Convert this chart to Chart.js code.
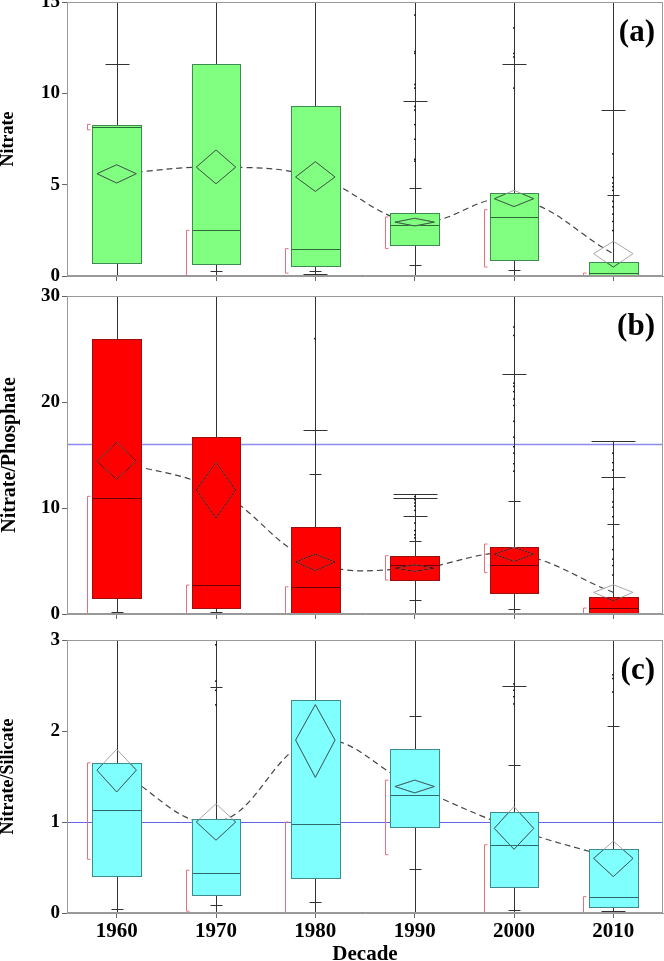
<!DOCTYPE html>
<html>
<head>
<meta charset="utf-8">
<script src="https://cdn.jsdelivr.net/npm/chart.js@4.4.0/dist/chart.umd.min.js"></script>
<style>
    html, body { margin: 0; padding: 0; background: #fff; overflow: hidden; width: 664px; height: 961px; position: relative; }
    .p { position: absolute; left: 0; width: 664px; }
</style>
</head>
<body>
<div class="p" style="top:-14px;height:305px"><canvas id="cA"></canvas></div>
<div class="p" style="top:280px;height:349px"><canvas id="cB"></canvas></div>
<div class="p" style="top:624px;height:343px"><canvas id="cC"></canvas></div>
<script>
const decades = ['1960', '1970', '1980', '1990', '2000', '2010'];

// (a) Nitrate
const nitQ1 = [0.71, 0.68, 0.55, 1.68, 0.86, 0.0];
const nitMed = [8.15, 2.5, 1.46, 2.77, 3.21, 0.16];
const nitQ3 = [8.25, 11.58, 9.28, 3.47, 4.54, 0.77];
const nitMean = [5.6, 5.96, 5.42, 2.95, 4.23, 1.22];
const nitMeanLo = [5.09, 5.05, 4.63, 2.74, 3.8, 0.49];
const nitMeanHi = [6.09, 6.9, 6.26, 3.16, 4.69, 1.9];
const nitMin = [0, 0, 0, 0, 0, 0];
const nitMax = [20, 20, 20, 20, 20, 20];
const nitTickS = [[0.05], [0.27], [0.3], [4.81, 0.58], [0.31], [4.41]];
const nitTickM = [[11.6], [], [0.12], [9.6, 0.02], [11.62, 0.03], [9.1]];
const nitTickL = [[], [0.02], [0.04], [], [], [0.03]];
const nitDots = [[], [], [], [14.3, 12.3, 12.2, 10.5, 10.3, 9.3, 9.1, 8.3, 7.5, 6.4, 6.3], [13.6, 12.2, 12.0, 10.3], [6.7, 5.4, 5.1, 4.9, 4.7, 4.1, 3.8, 3.4, 3.0, 2.5]];
const nitHalfLo = [8.0, 0, 0.16, 1.5, 0.49, 0];
const nitHalfHi = [8.3, 2.5, 1.5, 3.23, 3.63, 0.16];

// (b) Nitrate/Phosphate
const npQ1 = [1.47, 0.56, 0.0, 3.17, 1.94, 0.1];
const npMed = [10.93, 2.73, 2.57, 4.62, 4.62, 0.56];
const npQ3 = [25.9, 16.7, 8.17, 5.46, 6.34, 1.57];
const npMean = [14.4, 11.7, 4.9, 4.33, 5.65, 2.04];
const npMeanLo = [12.7, 9.05, 4.1, 4.02, 4.96, 1.25];
const npMeanHi = [16.2, 14.3, 5.65, 4.65, 6.28, 2.76];
const npMin = [0.1, 0, 0, 0, 0, 0];
const npMax = [40, 40, 40, 11.3, 40, 16.33];
const npTickS = [[0.15], [0.2], [13.25], [6.85, 1.32], [10.65, 0.47], [8.5]];
const npTickM = [[], [0.08], [17.4], [9.2], [22.6, 0.05], [12.94]];
const npTickL = [[], [], [], [11.3, 10.9], [], [16.33]];
const npDots = [[], [], [26.0], [11.1, 10.8, 10.5, 10.2, 9.8, 8.6, 7.9, 7.5, 7.2], [27.1, 26.3, 21.8, 21.5, 21.0, 20.3, 19.7, 18.2, 16.7, 15.8, 15.2, 14.2, 13.5], [15.2, 14.3, 13.6, 11.8, 10.6, 10.1, 9.2, 7.3, 6.1, 5.2, 4.6, 3.7]];
const npHalfLo = [0, 0, 0, 3.2, 3.9, 0];
const npHalfHi = [11.1, 2.73, 2.57, 5.5, 6.6, 0.56];
const npRef = 16;

// (c) Nitrate/Silicate
const nsQ1 = [0.41, 0.2, 0.38, 0.95, 0.29, 0.066];
const nsMed = [1.13, 0.44, 0.98, 1.3, 0.75, 0.18];
const nsQ3 = [1.65, 1.03, 2.34, 1.8, 1.11, 0.70];
const nsMean = [1.57, 1.0, 1.9, 1.39, 0.93, 0.6];
const nsMeanLo = [1.33, 0.8, 1.49, 1.32, 0.70, 0.4];
const nsMeanHi = [1.8, 1.2, 2.29, 1.46, 1.17, 0.79];
const nsMin = [0, 0, 0, 0, 0, 0];
const nsMax = [5, 5, 5, 5, 5, 5];
const nsTickS = [[0.04], [2.48, 0.09], [0.12], [2.16, 0.48], [1.63, 0.03], [2.06]];
const nsTickM = [[], [0.0], [], [], [2.49, 0.0], [0.02]];
const nsTickL = [[], [], [], [], [], []];
const nsDots = [[], [2.95, 2.55, 2.45, 2.29], [], [], [2.52, 2.45, 2.38, 2.3], [2.62, 2.58, 2.43]];
const nsHalfLo = [0.59, 0.02, 0, 0.64, 0, 0];
const nsHalfHi = [1.65, 0.47, 1.0, 1.46, 0.75, 0.18];
const nsRef = 1;

const serif = "'Liberation Serif', 'Times New Roman', serif";

function boxPlugin(p) {
    return {
        id: 'boxes' + p.tag,
        beforeDatasetsDraw(chart) {
            const { ctx, chartArea: a, scales: { x, y } } = chart;
            const step = x.getPixelForValue(1) - x.getPixelForValue(0);
            ctx.save();
            ctx.beginPath();
            ctx.rect(a.left, a.top, a.right - a.left, a.bottom - a.top);
            ctx.clip();
            // ligne de référence
            if (p.ref != null) {
                const ry = Math.round(y.getPixelForValue(p.ref)) + 0.5;
                ctx.strokeStyle = p.refColor;
                ctx.lineWidth = p.refWidth;
                ctx.beginPath();
                ctx.moveTo(a.left, ry);
                ctx.lineTo(a.right, ry);
                ctx.stroke();
            }
            p.mean.forEach((m, i) => {
                const cx = Math.round(x.getPixelForValue(i)) + 0.5;
                ctx.strokeStyle = '#333';
                ctx.lineWidth = 1;
                ctx.beginPath();
                ctx.moveTo(cx, y.getPixelForValue(p.min[i]));
                ctx.lineTo(cx, y.getPixelForValue(p.max[i]));
                ctx.stroke();
                // marques des quantiles
                [[p.tickS, 6], [p.tickM, 12], [p.tickL, 22]].forEach(([arr, hw]) => {
                    arr[i].forEach(v => {
                        const ty = Math.round(y.getPixelForValue(v)) + 0.5;
                        ctx.beginPath();
                        ctx.moveTo(cx - hw, ty);
                        ctx.lineTo(cx + hw, ty);
                        ctx.stroke();
                    });
                });
                // points
                ctx.fillStyle = '#222';
                p.dots[i].forEach(v => {
                    ctx.fillRect(cx - 1.5, y.getPixelForValue(v) - 0.5, 2, 1.5);
                });
                // crochet "shortest half"
                const bx = Math.round(cx - step * 0.307) + 0.5;
                const yl = y.getPixelForValue(p.halfLo[i]);
                const yh = y.getPixelForValue(p.halfHi[i]);
                ctx.strokeStyle = '#e8707c';
                ctx.beginPath();
                ctx.moveTo(bx + 3, yh);
                ctx.lineTo(bx, yh);
                ctx.lineTo(bx, yl);
                ctx.lineTo(bx + 3, yl);
                ctx.stroke();
            });
            ctx.restore();
        },
        afterDatasetsDraw(chart) {
            const { ctx, chartArea: a, scales: { x, y } } = chart;
            const step = x.getPixelForValue(1) - x.getPixelForValue(0);
            const hw = step * 0.245;
            const dw = hw * 0.81;
            ctx.save();
            ctx.beginPath();
            ctx.rect(a.left, a.top, a.right - a.left, a.bottom - a.top);
            ctx.clip();
            p.mean.forEach((m, i) => {
                const cx = x.getPixelForValue(i);
                const x0 = Math.round(cx - hw) + 0.5;
                const x1 = Math.round(cx + hw) + 0.5;
                const y0 = Math.round(y.getPixelForValue(p.q3[i])) + 0.5;
                const y1 = Math.round(y.getPixelForValue(p.q1[i])) + 0.5;
                ctx.fillStyle = p.fill;
                ctx.fillRect(x0, y0, x1 - x0, y1 - y0);
                ctx.strokeStyle = p.edge;
                ctx.lineWidth = 1;
                ctx.strokeRect(x0, y0, x1 - x0, y1 - y0);
                const my = Math.round(y.getPixelForValue(p.med[i])) + 0.5;
                ctx.strokeStyle = p.dark;
                ctx.beginPath();
                ctx.moveTo(x0, my);
                ctx.lineTo(x1, my);
                ctx.stroke();
                // losange de la moyenne
                const dm = y.getPixelForValue(m);
                const dt = y.getPixelForValue(p.meanHi[i]);
                const db = y.getPixelForValue(p.meanLo[i]);
                const diamond = () => {
                    ctx.beginPath();
                    ctx.moveTo(cx - dw, dm);
                    ctx.lineTo(cx, dt);
                    ctx.lineTo(cx + dw, dm);
                    ctx.lineTo(cx, db);
                    ctx.closePath();
                    ctx.stroke();
                };
                ctx.strokeStyle = '#a8a8a8';
                diamond();
                ctx.save();
                ctx.beginPath();
                ctx.rect(x0, y0, x1 - x0, y1 - y0);
                ctx.clip();
                ctx.strokeStyle = p.dark;
                diamond();
                ctx.restore();
            });
            ctx.restore();
            // cadre
            ctx.save();
            ctx.strokeStyle = '#999';
            ctx.lineWidth = 1;
            ctx.strokeRect(Math.round(a.left) + 0.5, Math.round(a.top) + 0.5, Math.round(a.right - a.left) - 1, Math.round(a.bottom - a.top) - 1);
            ctx.fillStyle = '#000';
            ctx.font = 'bold 31px ' + serif;
            ctx.textAlign = 'right';
            ctx.textBaseline = 'alphabetic';
            ctx.fillText(p.tag, a.right - 8, a.top + 39);
            ctx.restore();
        }
    };
}

function makePanel(id, p) {
    return new Chart(document.getElementById(id), {
        type: 'line',
        data: {
            labels: decades,
            datasets: [{
                data: p.mean,
                borderColor: '#444',
                borderWidth: 1.2,
                borderDash: [6, 4],
                tension: 0.4,
                pointRadius: 0,
                fill: false
            }]
        },
        options: {
            responsive: true,
            maintainAspectRatio: false,
            animation: false,
            layout: { padding: { top: 16, right: 1, bottom: 0, left: 0 } },
            plugins: { legend: { display: false }, tooltip: { enabled: false } },
            scales: {
                x: {
                    offset: true,
                    grid: { drawOnChartArea: false, tickLength: 5, color: '#666' },
                    border: { color: '#999' },
                    ticks: { display: p.showX, color: '#000', padding: 1, font: { family: serif, size: 21, weight: 'bold' } },
                    title: { display: p.showX, text: 'Decade', color: '#000', padding: { top: 0, bottom: 0 }, font: { family: serif, size: 21, weight: 'bold' } },
                    afterFit: s => { s.height = p.xh; }
                },
                y: {
                    min: 0,
                    max: p.top,
                    ticks: { stepSize: p.step, color: '#000', padding: 2, font: { family: serif, size: 19, weight: 'bold' } },
                    grid: { drawOnChartArea: false, tickLength: 5, color: '#666' },
                    border: { color: '#999' },
                    title: { display: true, text: p.title, color: '#000', padding: { top: -2, bottom: 0 }, font: { family: serif, size: p.titleSize, weight: 'bold' } },
                    afterFit: s => { s.width = 67; }
                }
            }
        },
        plugins: [boxPlugin(p)]
    });
}

makePanel('cA', {
    tag: '(a)', title: 'Nitrate', titleSize: 18, top: 15, step: 5, showX: false, xh: 15,
    q1: nitQ1, med: nitMed, q3: nitQ3, mean: nitMean, meanLo: nitMeanLo, meanHi: nitMeanHi,
    min: nitMin, max: nitMax, tickS: nitTickS, tickM: nitTickM, tickL: nitTickL, dots: nitDots,
    halfLo: nitHalfLo, halfHi: nitHalfHi, ref: null,
    fill: '#80ff80', edge: '#3f8a52', dark: '#2d6a35'
});

makePanel('cB', {
    tag: '(b)', title: 'Nitrate/Phosphate', titleSize: 20, top: 30, step: 10, showX: false, xh: 15,
    q1: npQ1, med: npMed, q3: npQ3, mean: npMean, meanLo: npMeanLo, meanHi: npMeanHi,
    min: npMin, max: npMax, tickS: npTickS, tickM: npTickM, tickL: npTickL, dots: npDots,
    halfLo: npHalfLo, halfHi: npHalfHi, ref: npRef, refColor: '#8a8af0', refWidth: 1.5,
    fill: '#ff0000', edge: '#9a1010', dark: '#6a0000'
});

makePanel('cC', {
    tag: '(c)', title: 'Nitrate/Silicate', titleSize: 18, top: 3, step: 1, showX: true, xh: 54,
    q1: nsQ1, med: nsMed, q3: nsQ3, mean: nsMean, meanLo: nsMeanLo, meanHi: nsMeanHi,
    min: nsMin, max: nsMax, tickS: nsTickS, tickM: nsTickM, tickL: nsTickL, dots: nsDots,
    halfLo: nsHalfLo, halfHi: nsHalfHi, ref: nsRef, refColor: '#6464e6', refWidth: 1,
    fill: '#80ffff', edge: '#3f8a8a', dark: '#2d6a6a'
});
</script>
</body>
</html>
